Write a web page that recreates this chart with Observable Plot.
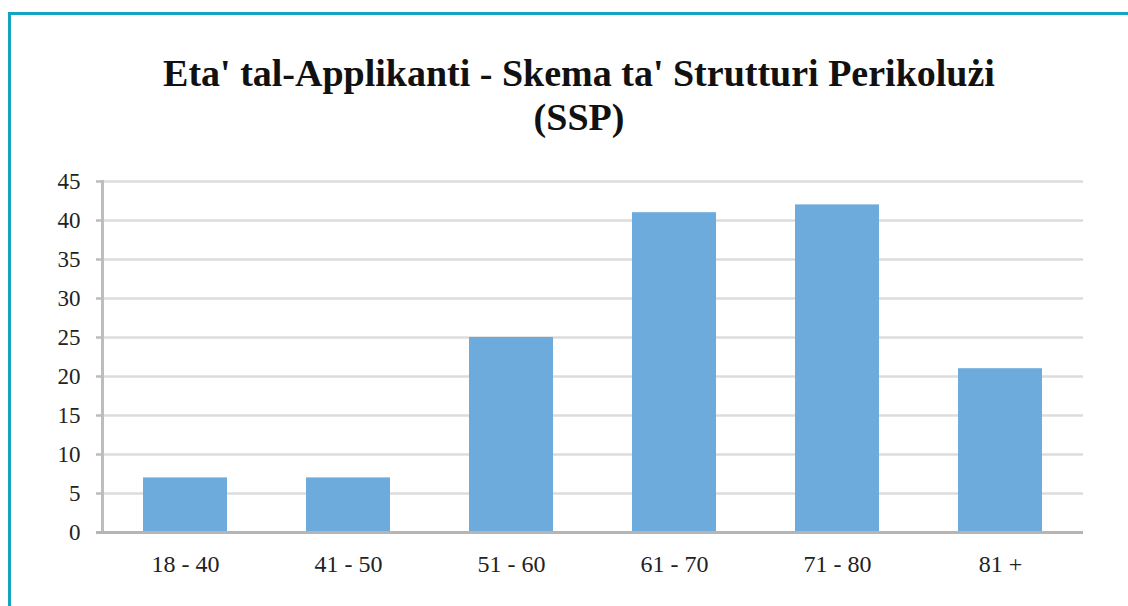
<!DOCTYPE html>
<html>
<head>
<meta charset="utf-8">
<script src="https://cdn.jsdelivr.net/npm/d3@7"></script>
<script src="https://cdn.jsdelivr.net/npm/@observablehq/plot@0.6"></script>
<style>
  html, body { margin: 0; padding: 0; background: #fff; }
  #wrap { position: relative; width: 1128px; height: 606px; overflow: hidden; background: #fff; }
  #frame { position: absolute; left: 8px; top: 12px; width: 1200px; height: 700px;
           border-top: 3px solid #14A3C3; border-left: 3px solid #14A3C3; box-sizing: border-box; }
  #title { position: absolute; left: 0; width: 1158px; top: 51px; text-align: center;
           font-family: "Liberation Serif", Tinos, "Times New Roman", serif; font-weight: bold;
           font-size: 38px; line-height: 44px; color: #111; }
  #chart { position: absolute; left: 0; top: 0; }
  #chart svg text { font-family: "Liberation Serif", Tinos, "Times New Roman", serif; }
</style>
</head>
<body>
<div id="wrap">
  <div id="frame"></div>
  <div id="chart"></div>
  <div id="title">Eta' tal-Applikanti - Skema ta' Strutturi Perikolużi<br>(SSP)</div>
</div>
<script>
const categories = ["18 - 40", "41 - 50", "51 - 60", "61 - 70", "71 - 80", "81 +"];
const values = [7, 7, 25, 41, 42, 21];
const yTicks = [0, 5, 10, 15, 20, 25, 30, 35, 40, 45];

const data = categories.map((c, i) => ({category: c, value: values[i]}));

const chart = Plot.plot({
  width: 1128,
  height: 606,
  marginTop: 181,
  marginBottom: 74,
  marginLeft: 102,
  marginRight: 45,
  style: {fontFamily: "Liberation Serif, serif", fontSize: "23px", color: "#222", background: "transparent"},
  x: {domain: categories, paddingInner: 0.486, paddingOuter: 0.243, label: null},
  y: {domain: [0, 45], label: null},
  marks: [
    Plot.gridY(yTicks.filter(d => d > 0), {stroke: "#DCDCDC", strokeOpacity: 1, strokeWidth: 2.5}),
    Plot.barY(data, {x: "category", y: "value", fill: "#6CABDC"}),
    Plot.frame({anchor: "left", stroke: "#BDBDBD", strokeWidth: 3}),
    Plot.axisY({ticks: yTicks, tickSize: 6, tickPadding: 16, stroke: "#BDBDBD", strokeWidth: 2.5, fill: "#222", label: null}),
    Plot.ruleY([0], {stroke: "#B5B5B5", strokeWidth: 3, insetLeft: -6}),
    Plot.axisX({tickSize: 0, tickPadding: 22, fontSize: 24, fill: "#222", label: null})
  ]
});
document.getElementById("chart").appendChild(chart);
</script>
</body>
</html>
